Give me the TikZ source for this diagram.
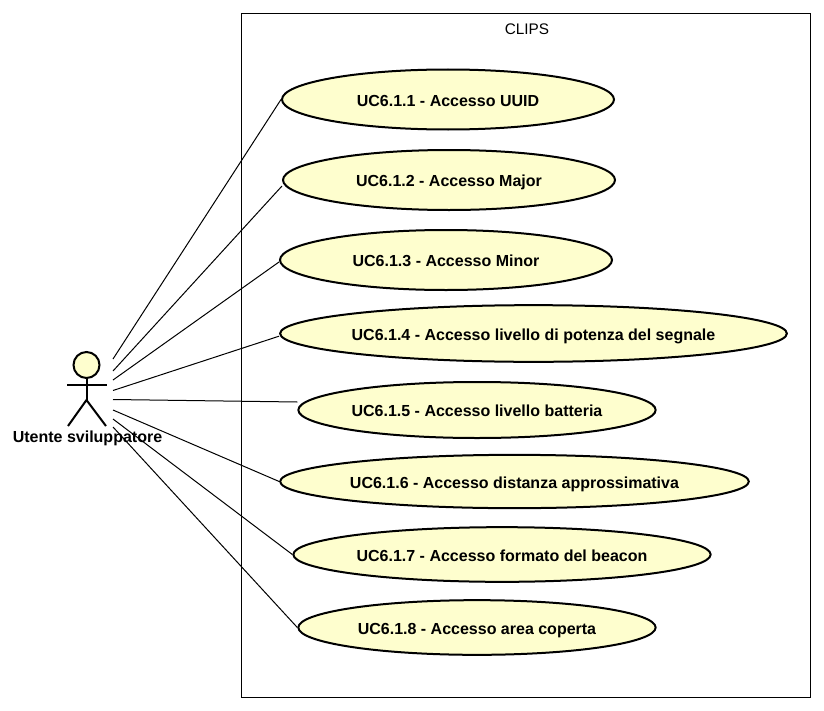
\documentclass[tikz,border=0pt]{standalone}
\usepackage{fontspec}
\setmainfont{Liberation Sans}
\usetikzlibrary{shapes.geometric,positioning}
\definecolor{ucfill}{RGB}{254,254,206}
\tikzstyle{usecase} = [ellipse,draw=black,line width=1.5pt,fill=ucfill,inner ysep=0pt,inner xsep=-2pt,text height=12pt,text depth=2.2pt,font=\fontsize{12pt}{13pt}\selectfont\bfseries]
\tikzstyle{link} = [line width=0.75pt,color=black]
\tikzstyle{limb} = [line width=1.5pt,color=black]

\begin{document}
\begin{tikzpicture}[x=0.75pt,y=-0.75pt]
\useasboundingbox (0,0) rectangle (824,710);
% System boundary
\node[draw=black,line width=0.75pt,minimum width=427pt,minimum height=512.25pt,inner sep=0pt] (clips) at (526,355.5) {};
\node[font=\fontsize{11.5pt}{12pt}\selectfont] (clipslabel) at (527,29.5) {CLIPS};

% Use cases
\node[usecase,minimum width=249pt,minimum height=45pt] (uc1) at (448,99.5) {UC6.1.1 - Accesso UUID};
\node[usecase,minimum width=249pt,minimum height=45pt] (uc2) at (449,180) {UC6.1.2 - Accesso Major};
\node[usecase,minimum width=249pt,minimum height=45pt] (uc3) at (446,260) {UC6.1.3 - Accesso Minor};
\node[usecase,minimum width=380pt,minimum height=42.5pt] (uc4) at (533.5,333.5) {UC6.1.4 - Accesso livello di potenza del segnale};
\node[usecase,minimum width=268pt,minimum height=42pt] (uc5) at (477,410) {UC6.1.5 - Accesso livello batteria};
\node[usecase,minimum width=351.5pt,minimum height=40pt] (uc6) at (514.5,481.5) {UC6.1.6 - Accesso distanza approssimativa};
\node[usecase,minimum width=313pt,minimum height=41pt] (uc7) at (502,554.5) {UC6.1.7 - Accesso formato del beacon};
\node[usecase,minimum width=268pt,minimum height=41pt] (uc8) at (477,627.5) {UC6.1.8 - Accesso area coperta};

% Actor
\node[circle,draw=black,line width=1.5pt,fill=ucfill,minimum size=19.5pt,inner sep=0pt] (head) at (86.5,365) {};
\coordinate (hip) at (86.5,400);
\coordinate (armL) at (67,385);
\coordinate (armR) at (107,385);
\coordinate (footL) at (68,426);
\coordinate (footR) at (106,426);
\draw[limb] (head) -- (hip);
\draw[limb] (armL) -- (armR);
\draw[limb] (footL) -- (hip) -- (footR);
\node[font=\fontsize{12pt}{13pt}\selectfont\bfseries] (actor) at (87.5,438.5) {Utente sviluppatore};

% Links
\coordinate (a1) at (113,359);
\coordinate (a2) at (113,371);
\coordinate (a3) at (113,380);
\coordinate (a4) at (113,390.5);
\coordinate (a5) at (113,399.5);
\coordinate (a6) at (113,410);
\coordinate (a7) at (113,419);
\coordinate (a8) at (113,427);
\draw[link] (a1) -- (uc1.west);
\draw[link] (a2) -- ([yshift=-4.5pt]uc2.west);
\draw[link] (a3) -- ([yshift=-1.5pt]uc3.west);
\draw[link] (a4) -- ([yshift=-2pt]uc4.west);
\draw[link] (a5) -- ([yshift=6pt]uc5.west);
\draw[link] (a6) -- (uc6.west);
\draw[link] (a7) -- (uc7.west);
\draw[link] (a8) -- (uc8.west);
\end{tikzpicture}
\end{document}
